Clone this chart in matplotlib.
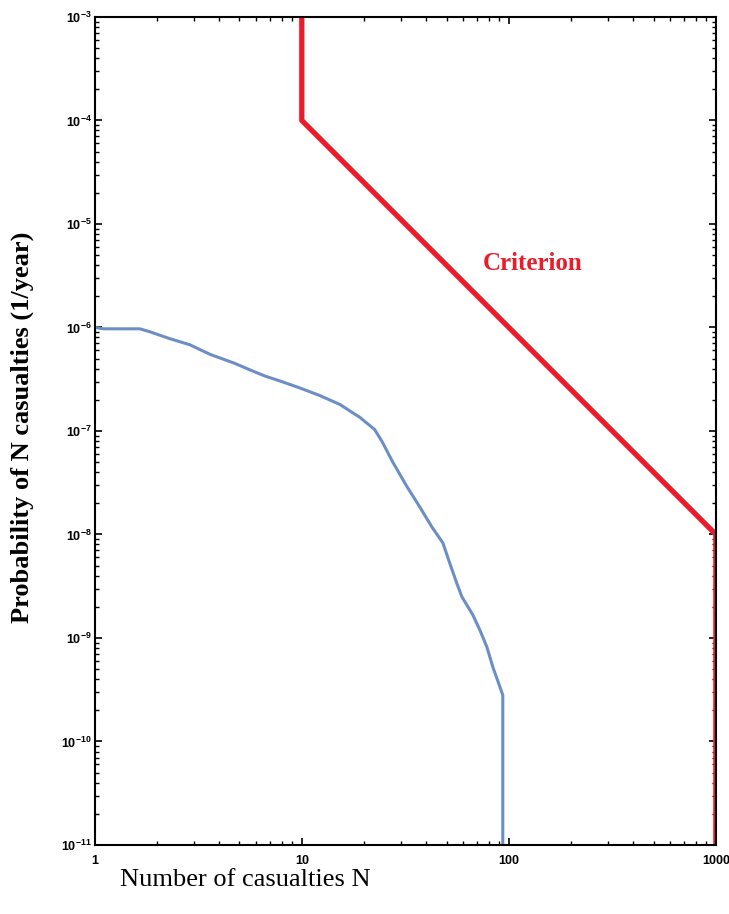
import numpy as np
import matplotlib as mpl
mpl.use('Agg')
import matplotlib.pyplot as plt
from matplotlib.ticker import LogLocator, FixedLocator, NullFormatter

# F-N curve
fn_N = [1.0, 1.1, 1.65, 1.84, 2.30, 2.88, 3.60, 4.74, 5.6, 6.62, 7.8, 9.8, 12.2,
        15.3, 19.1, 22.5, 24.5, 27.5, 32.2, 37.1, 42.5, 48.0, 51.8, 56.0, 59.3,
        67.0, 72.5, 78.3, 83.8, 90.4, 93.5, 93.5]
fn_P = [1.0e-6, 9.7e-7, 9.7e-7, 9.1e-7, 7.8e-7, 6.8e-7, 5.5e-7, 4.5e-7, 3.9e-7,
        3.4e-7, 3.05e-7, 2.6e-7, 2.2e-7, 1.8e-7, 1.35e-7, 1.03e-7, 7.8e-8, 5.0e-8,
        2.9e-8, 1.85e-8, 1.18e-8, 8.3e-9, 5.3e-9, 3.4e-9, 2.5e-9, 1.67e-9, 1.19e-9,
        8.2e-10, 5.2e-10, 3.4e-10, 2.8e-10, 1e-11]

# criterion line
crit_N = [10, 10, 1000, 1000]
crit_P = [1e-3, 1e-4, 1e-8, 1e-11]

xticks = [1, 10, 100, 1000]
xticklabels = ['1', '10', '100', '1000']
yexp = [-3, -4, -5, -6, -7, -8, -9, -10, -11]

plt.rcParams['mathtext.default'] = 'regular'
plt.rcParams['font.family'] = ['Liberation Sans', 'DejaVu Sans']

fig = plt.figure(figsize=(7.29, 9.14), dpi=100)
ax = fig.add_axes([0.130, 0.0755, 0.852, 0.906])

ax.plot(fn_N, fn_P, color='#6b8fc5', linewidth=2.2, solid_capstyle='butt')
ax.plot(crit_N, crit_P, color='#ea1c2a', linewidth=3.8, solid_capstyle='round')

ax.set_xscale('log')
ax.set_yscale('log')
ax.set_xlim(1, 1000)
ax.set_ylim(1e-11, 1e-3)

ax.xaxis.set_major_locator(FixedLocator(xticks))
ax.set_xticklabels(xticklabels)
ax.xaxis.set_minor_locator(LogLocator(base=10, subs=np.arange(2, 10)))
ax.xaxis.set_minor_formatter(NullFormatter())
ax.yaxis.set_major_locator(FixedLocator([10.0 ** e for e in yexp]))
ax.set_yticklabels(['$10^{%d}$' % e for e in yexp])
ax.yaxis.set_minor_locator(LogLocator(base=10, subs=np.arange(2, 10), numticks=20))
ax.yaxis.set_minor_formatter(NullFormatter())

ax.tick_params(which='both', direction='in', top=True, right=True,
               labelsize=9, colors='black')
ax.tick_params(which='major', length=5, width=1.2)
ax.tick_params(which='minor', length=3, width=1.0)
ax.tick_params(axis='x', pad=7)
ax.tick_params(axis='y', pad=2)
for lbl in ax.get_xticklabels() + ax.get_yticklabels():
    lbl.set_fontweight('bold')
for sp in ax.spines.values():
    sp.set_linewidth(1.5)

ax.text(74.7, 3.6e-6, 'Criterion', color='#ea1c2a', fontsize=18, va='baseline',
        fontweight='bold', family='Liberation Serif')

fig.text(0.336, 0.037, 'Number of casualties N', ha='center', va='center',
         fontsize=19, family='Liberation Serif')
fig.text(0.030, 0.533, 'Probability of N casualties (1/year)', ha='center', va='center',
         rotation=90, fontsize=19, fontweight='bold', family='Liberation Serif')

fig.savefig('out.png', dpi=100)
plt.close()
